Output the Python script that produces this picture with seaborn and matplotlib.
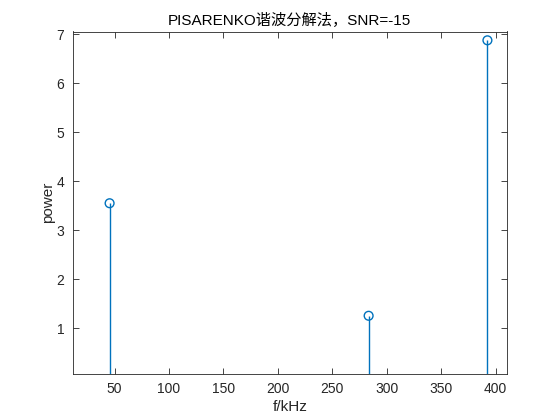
import numpy as np
import pandas as pd
import matplotlib
matplotlib.use('Agg')
import matplotlib.pyplot as plt
import seaborn as sns

# peak frequencies (kHz) and estimated power
freqs = [45.4, 283.3, 392.4]
powers = [3.55, 1.25, 6.88]
xticks = [50, 100, 150, 200, 250, 300, 350, 400]
yticks = [1, 2, 3, 4, 5, 6, 7]

sns.set_theme(style='white')
plt.rcParams['font.family'] = ['Liberation Sans', 'Noto Sans CJK SC', 'DejaVu Sans']

blue = '#0072BD'
edge = '#262626'

df = pd.DataFrame({'f': freqs, 'p': powers})

fig = plt.figure(figsize=(5.6, 4.2), dpi=100)
ax = fig.add_axes([0.13, 0.11, 0.775, 0.815])

ymin, ymax = 0.064, 7.06
ax.vlines(df['f'], ymin - 1, df['p'], color=blue, linewidth=1.0, zorder=2)
sns.scatterplot(data=df, x='f', y='p', ax=ax, marker='o', s=40,
                facecolor='none', edgecolor=blue, linewidth=1.0, zorder=3)

ax.set_xlim(11.6, 410.2)
ax.set_ylim(ymin, ymax)
ax.set_xticks(xticks)
ax.set_yticks(yticks)

for s in ax.spines.values():
    s.set_color(edge)
    s.set_linewidth(0.6)
ax.tick_params(direction='in', length=4, width=0.6, color=edge, labelcolor=edge,
               labelsize=10, top=True, right=True, bottom=True, left=True, pad=6)

ax.set_xlabel('f/kHz', fontsize=11, color=edge, labelpad=3)
ax.set_ylabel('power', fontsize=11, color=edge, labelpad=1)
ax.set_title('PISARENKO谐波分解法，SNR=-15', fontsize=11, color='black', pad=5)

fig.savefig('out.png', dpi=100)
